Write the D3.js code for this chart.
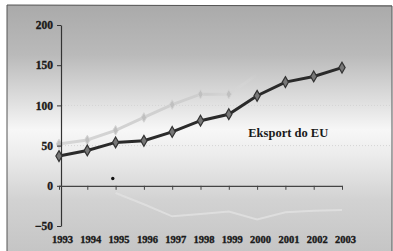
<!DOCTYPE html>
<html><head><meta charset="utf-8">
<script src="https://cdn.jsdelivr.net/npm/d3@7"></script>
<style>
html,body{margin:0;padding:0;background:#fff;}
svg{display:block;}
</style></head>
<body>
<script>
const years = [1993,1994,1995,1996,1997,1998,1999,2000,2001,2002,2003];
const yearLabels = ["1993","1994","1995","1996","1997","1998","1999","2000","2001","2002","2003"];
const eksportEU = [37,44,54,56,67,81,89,112,129,136,147];
const lightYears = [1993,1994,1995,1996,1997,1998,1999,2000];
const lightSeries = [52,57,69,85,101,114,114,138];
const faintYears = [1995,1996,1997,1998,1999,2000,2001,2002,2003];
const faintSeries = [-9,-23,-38,-35,-32,-42,-33,-31,-30];
const yTicks = [-50,0,50,100,150,200];
const seriesLabel = "Eksport do EU";

const W=393,H=251;
const svg=d3.select("body").append("svg").attr("width",W).attr("height",H);
const defs=svg.append("defs");
const g=defs.append("linearGradient").attr("id","bg").attr("x1",0).attr("y1",0).attr("x2",0).attr("y2",1);
[[0,"#aaaaaa"],[0.2,"#bababa"],[0.4,"#e2e2e2"],[0.5,"#f7f7f7"],[0.6,"#ececec"],[0.78,"#d2d2d2"],[1,"#c4c4c4"]]
 .forEach(([o,c])=>g.append("stop").attr("offset",o).attr("stop-color",c));
const gh=defs.append("linearGradient").attr("id","fadeL").attr("x1",0).attr("y1",0).attr("x2",1).attr("y2",0);
[[0,"#d6d6d6",1],[0.75,"#cdcdcd",1],[0.9,"#d6d6d6",0.5],[1,"#e0e0e0",0]].forEach(([o,c,op])=>gh.append("stop").attr("offset",o).attr("stop-color",c).attr("stop-opacity",op));

svg.append("rect").attr("x",7).attr("y",5).attr("width",385).attr("height",250).attr("fill","url(#bg)");
svg.append("path").attr("d","M7,251 L7,5 L392,6 L392,251").attr("fill","none").attr("stroke","#555").attr("stroke-width",1);

const x=d3.scaleLinear().domain([1993,2003]).range([59,342]);
const y=d3.scaleLinear().domain([-50,200]).range([226,25]);

// faint dotted gridlines
svg.append("g").selectAll("line").data([50,100]).join("line")
 .attr("x1",62).attr("x2",390).attr("y1",d=>y(d)).attr("y2",d=>y(d))
 .attr("stroke","#d4d4d4").attr("stroke-width",1).attr("stroke-dasharray","1,2");

// faint series below zero
svg.append("path").datum(faintSeries.map((v,i)=>[faintYears[i],v]))
 .attr("d",d3.line().x(d=>x(d[0])).y(d=>y(d[1])))
 .attr("fill","none").attr("stroke","#e0e0e0").attr("stroke-width",2).attr("opacity",0.85);

// light series
const lightPts=lightSeries.map((v,i)=>[lightYears[i],v]);
svg.append("path").datum(lightPts)
 .attr("d",d3.line().x(d=>x(d[0])).y(d=>y(d[1])))
 .attr("fill","none").attr("stroke","url(#fadeL)").attr("stroke-width",3);
svg.append("g").selectAll("path").data(lightPts.slice(0,7)).join("path")
 .attr("transform",d=>`translate(${x(d[0])},${y(d[1])})`)
 .attr("d",d3.symbol().type(d3.symbolDiamond).size(26))
 .attr("fill","#c0c0c0").attr("stroke","#d4d4d4").attr("stroke-width",1);

// axes
const yAxis=svg.append("g").attr("transform","translate(61,0)")
 .call(d3.axisLeft(y).tickValues(yTicks).tickSize(4).tickSizeOuter(0).tickPadding(4));
yAxis.select(".domain").attr("stroke","#333").attr("stroke-width",1.2);
yAxis.selectAll(".tick line").attr("stroke","#333");
yAxis.selectAll("text").attr("font-family","Liberation Serif").attr("font-weight","bold").attr("font-size",11.5)
 .attr("fill","#1a1a1a").attr("stroke","#1a1a1a").attr("stroke-width",0.35);

const y0=y(0);
const xAxis=svg.append("g").attr("transform",`translate(0,${y0})`)
 .call(d3.axisBottom(x).tickValues(years).tickFormat((d,i)=>yearLabels[i]).tickSize(4).tickSizeOuter(0).tickPadding(0));
xAxis.select(".domain").attr("stroke","#444").attr("stroke-width",1.2);
xAxis.selectAll(".tick line").attr("stroke","#444");
xAxis.selectAll("text").attr("y",50).attr("dx",3).attr("font-family","Liberation Serif").attr("font-weight","bold").attr("font-size",10.5)
 .attr("fill","#1a1a1a").attr("stroke","#1a1a1a").attr("stroke-width",0.35);

// dark series
const darkPts=eksportEU.map((v,i)=>[years[i],v]);
svg.append("path").datum(darkPts)
 .attr("d",d3.line().x(d=>x(d[0])).y(d=>y(d[1])))
 .attr("fill","none").attr("stroke","#2a2a2a").attr("stroke-width",3);
svg.append("g").selectAll("path").data(darkPts).join("path")
 .attr("transform",d=>`translate(${x(d[0])},${y(d[1])})`)
 .attr("d",d3.symbol().type(d3.symbolDiamond).size(34))
 .attr("fill","#777").attr("stroke","#333").attr("stroke-width",1.2);

// label
svg.append("text").attr("x",x(2001.1)).attr("y",137).attr("text-anchor","middle")
 .attr("font-family","Liberation Serif").attr("font-weight","bold").attr("font-size",12.5).attr("fill","#1a1a1a")
 .text(seriesLabel);

// stray dot
svg.append("circle").attr("cx",x(1994.9)).attr("cy",y(9)).attr("r",1.7).attr("fill","#111");
</script>
</body></html>
